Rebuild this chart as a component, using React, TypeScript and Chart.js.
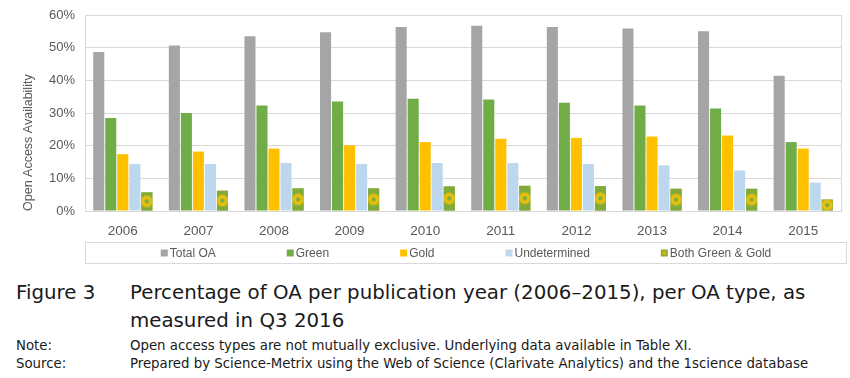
import React, { useEffect, useRef } from 'react';
import { Chart, registerables } from 'chart.js';

Chart.register(...registerables);

const years = ['2006', '2007', '2008', '2009', '2010', '2011', '2012', '2013', '2014', '2015'];
const totalOA = [48.7, 50.7, 53.5, 54.7, 56.3, 56.7, 56.3, 55.9, 55.0, 41.4];
const green = [28.5, 30.0, 32.3, 33.5, 34.4, 34.1, 33.1, 32.3, 31.4, 21.1];
const gold = [17.4, 18.2, 19.1, 20.1, 21.1, 22.1, 22.4, 22.8, 23.1, 19.1];
const undetermined = [14.4, 14.4, 14.7, 14.4, 14.7, 14.7, 14.4, 14.0, 12.4, 8.7];
const bothGreenGold = [5.7, 6.2, 6.9, 6.9, 7.5, 7.7, 7.6, 6.8, 6.8, 3.5];
const seriesNames = ['Total OA', 'Green', 'Gold', 'Undetermined', 'Both Green & Gold'];
const seriesColors = ['#a5a5a5', '#70ad47', '#ffc000', '#bdd7ee', '#8aab2e'];
const yMax = 60;
const yStep = 10;

const TICK_FONT = '"Liberation Sans", Arial, sans-serif';

function fillBoth(ctx: CanvasRenderingContext2D, x: number, y: number, w: number, h: number, r: number) {
  const cx = x + w / 2;
  const cy = y + h / 2;
  const g = ctx.createRadialGradient(cx, cy, 0, cx, cy, r);
  g.addColorStop(0, '#6fac46');
  g.addColorStop(0.22, '#86b33c');
  g.addColorStop(0.45, '#f7c004');
  g.addColorStop(0.7, '#d9bd12');
  g.addColorStop(1, '#80aa3a');
  ctx.fillStyle = g;
  ctx.fillRect(x, y, w, h);
}

const frameAndPattern = {
  id: 'frameAndPattern',
  beforeDatasetsDraw(chart: any) {
    const { ctx, chartArea } = chart;
    ctx.save();
    ctx.strokeStyle = '#d9d9d9';
    ctx.lineWidth = 1;
    ctx.strokeRect(Math.round(chartArea.left) + 0.5, Math.round(chartArea.top) + 0.5,
      Math.round(chartArea.right - chartArea.left), Math.round(chartArea.bottom - chartArea.top));
    ctx.restore();
  },
  afterDatasetsDraw(chart: any) {
    const { ctx } = chart;
    const meta = chart.getDatasetMeta(4);
    ctx.save();
    meta.data.forEach((el: any) => {
      const p = el.getProps(['x', 'y', 'base', 'width'], true);
      fillBoth(ctx, p.x - p.width / 2, p.y, p.width, p.base - p.y, 7);
    });
    ctx.restore();
  },
  afterDraw(chart: any) {
    const { ctx, chartArea } = chart;
    const boxLeft = Math.round(chartArea.left) + 0.5;
    const boxRight = 846.5;
    const boxTop = Math.round(chartArea.bottom) + 31.5;
    const boxBottom = boxTop + 21;
    ctx.save();
    ctx.strokeStyle = '#d9d9d9';
    ctx.lineWidth = 1;
    ctx.strokeRect(boxLeft, boxTop, boxRight - boxLeft, boxBottom - boxTop);
    ctx.font = '12px ' + TICK_FONT;
    const sq = 7;
    const gapText = 2;
    const gapItem = 71;
    const widths = seriesNames.map((n) => sq + gapText + ctx.measureText(n).width);
    const total = widths.reduce((a, b) => a + b, 0) + gapItem * (widths.length - 1);
    let x = (boxLeft + boxRight) / 2 - total / 2;
    const cy = (boxTop + boxBottom) / 2;
    ctx.textBaseline = 'middle';
    ctx.textAlign = 'left';
    seriesNames.forEach((n, i) => {
      if (i === 4) {
        ctx.fillStyle = '#8aab2e';
        ctx.fillRect(x, cy - 3.5, sq, sq);
        ctx.fillStyle = '#c9b814';
        ctx.fillRect(x + 1.5, cy - 2, sq - 3, sq - 3);
      } else {
        ctx.fillStyle = seriesColors[i];
        ctx.fillRect(x, cy - 3.5, sq, sq);
      }
      ctx.fillStyle = '#595959';
      ctx.fillText(n, x + sq + gapText, cy + 0.5);
      x += widths[i] + gapItem;
    });
    ctx.restore();
  },
};

export default function App() {
  const ref = useRef<HTMLCanvasElement | null>(null);

  useEffect(() => {
    if (!ref.current) return;
    const data = [totalOA, green, gold, undetermined, bothGreenGold];
    const chart = new Chart(ref.current, {
      type: 'bar',
      data: {
        labels: years,
        datasets: data.map((d, i) => ({
          label: seriesNames[i],
          data: d,
          backgroundColor: seriesColors[i],
          borderWidth: 0,
          barPercentage: 0.92,
          categoryPercentage: 0.795,
        })),
      },
      options: {
        responsive: false,
        animation: false,
        layout: { padding: { top: 15, right: 9, left: 0, bottom: 0 } },
        plugins: {
          legend: { display: false },
          tooltip: { enabled: false },
        },
        scales: {
          x: {
            grid: { display: false },
            border: { display: false },
            ticks: {
              color: '#595959',
              font: { size: 13.5, family: TICK_FONT },
              padding: 4,
              maxRotation: 0,
            },
            afterFit: (s: any) => { s.height = 57; s.paddingLeft = 0; s.paddingRight = 0; },
          },
          y: {
            min: 0,
            max: yMax,
            grid: { color: '#d9d9d9', drawTicks: false },
            border: { display: false },
            ticks: {
              stepSize: yStep,
              color: '#595959',
              font: { size: 13, family: TICK_FONT },
              padding: 10,
              callback: (v: any) => v + '%',
            },
            title: {
              display: true,
              text: 'Open Access Availability',
              align: 'start',
              color: '#595959',
              font: { size: 12.5, family: TICK_FONT },
              padding: { top: 21, bottom: 0 },
            },
            afterFit: (s: any) => { s.width = 85; s.paddingTop = 0; s.paddingBottom = 0; },
          },
        },
      },
      plugins: [frameAndPattern],
    });
    return () => chart.destroy();
  }, []);

  const capFont = '"DejaVu Sans", sans-serif';
  const noteFont = '"Liberation Sans Narrow", "DejaVu Sans Condensed", sans-serif';
  const base: React.CSSProperties = { position: 'absolute', whiteSpace: 'nowrap', color: '#1a1a1a' };

  return (
    <div style={{ position: 'absolute', left: 0, top: 0, width: 850, height: 378, background: '#fff', overflow: 'hidden' }}>
      <canvas ref={ref} width={850} height={268} style={{ position: 'absolute', left: 0, top: 0, width: 850, height: 268 }} />
      <div style={{ ...base, left: 16, top: 281, lineHeight: '24px', fontFamily: capFont, fontSize: 19.8 }}>Figure 3</div>
      <div style={{ ...base, left: 130, top: 281, lineHeight: '24px', fontFamily: capFont, fontSize: 19.8 }}>
        Percentage of OA per publication year (2006–2015), per OA type, as
      </div>
      <div style={{ ...base, left: 130, top: 309, lineHeight: '24px', fontFamily: capFont, fontSize: 19.8 }}>
        measured in Q3 2016
      </div>
      <div style={{ ...base, left: 16, top: 336, lineHeight: '18px', fontFamily: noteFont, fontSize: 14.8 }}>Note:</div>
      <div style={{ ...base, left: 130, top: 336, lineHeight: '18px', fontFamily: noteFont, fontSize: 14.8 }}>
        Open access types are not mutually exclusive. Underlying data available in Table XI.
      </div>
      <div style={{ ...base, left: 16, top: 354, lineHeight: '18px', fontFamily: noteFont, fontSize: 14.8 }}>Source:</div>
      <div style={{ ...base, left: 130, top: 354, lineHeight: '18px', fontFamily: noteFont, fontSize: 14.8 }}>
        Prepared by Science-Metrix using the Web of Science (Clarivate Analytics) and the 1science database
      </div>
    </div>
  );
}
